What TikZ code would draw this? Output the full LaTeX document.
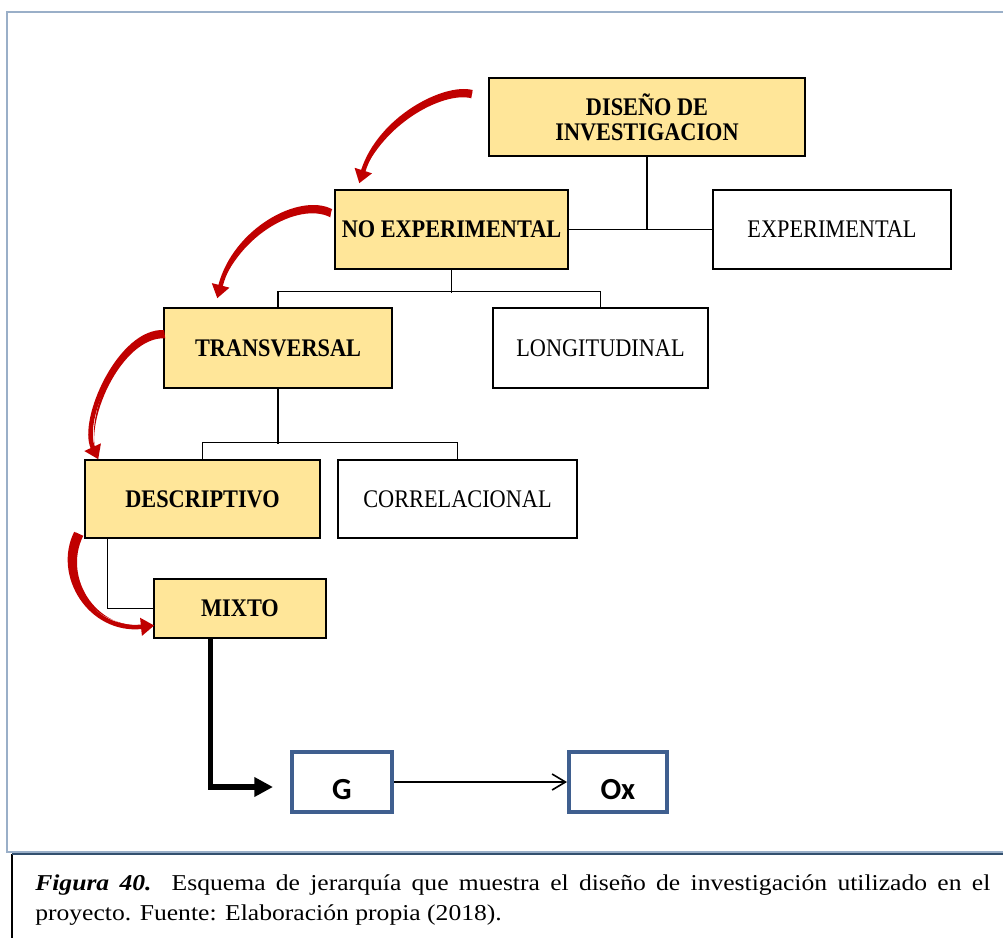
\documentclass[tikz,border=0pt]{standalone}
\usepackage{fontspec}
\setmainfont{Liberation Serif}
\newfontfamily\calibrifont{Carlito}
\newfontfamily\diafont[FakeStretch=0.88]{Liberation Serif}
\newfontfamily\capfont[FakeStretch=1.13]{Liberation Serif}
\usetikzlibrary{arrows.meta,calc}
\definecolor{boxyellow}{HTML}{FFE699}
\definecolor{arrowred}{HTML}{C00000}
\definecolor{frameblue}{HTML}{9AAFC8}
\definecolor{capline}{HTML}{33506F}
\definecolor{gblue}{HTML}{3F5F8F}
\begin{document}
\begin{tikzpicture}[x=0.75pt,y=-0.75pt,
  ybox/.style={draw=black,line width=1.1pt,fill=boxyellow,font=\diafont\fontsize{19}{18.5}\selectfont\bfseries,inner sep=0pt,align=center},
  wbox/.style={draw=black,line width=1.1pt,fill=white,font=\diafont\fontsize{19}{20}\selectfont,inner sep=0pt},
  tree/.style={draw=black,line width=1pt},
  obox/.style={draw=gblue,line width=3pt,fill=white,font=\calibrifont\fontsize{23}{24}\selectfont\bfseries,inner sep=0pt},
  redarr/.style={draw=arrowred,line width=3.4pt,-{Triangle[length=10pt,width=13pt]}},
  redtail/.style={fill=arrowred}
]
\useasboundingbox (0,0) rectangle (1003,938);
\fill[white] (0,0) rectangle (1003,938);
% frames
\draw[frameblue,line width=1.6pt] (1010,12) -- (7,12) -- (7,852) -- (1010,852);
\draw[black,line width=1.5pt] (12,853.5) -- (12,945);
\draw[capline,line width=1.5pt] (12,853.5) -- (1010,853.5);

% nodes
\node[ybox,minimum width=237pt,minimum height=58.5pt] (dis) at (647,117) {DISEÑO DE\\INVESTIGACION};
\node[ybox,minimum width=174.75pt,minimum height=59.25pt] (noexp) at (451.5,229.5) {NO EXPERIMENTAL};
\node[wbox,minimum width=178.5pt,minimum height=59.25pt] (exp) at (832,229.5) {EXPERIMENTAL};
\node[ybox,minimum width=171pt,minimum height=60pt] (trans) at (278,348) {TRANSVERSAL};
\node[wbox,minimum width=161.25pt,minimum height=60pt] (long) at (600.5,348) {LONGITUDINAL};
\node[ybox,minimum width=176.25pt,minimum height=58.5pt] (desc) at (202.5,499) {DESCRIPTIVO};
\node[wbox,minimum width=179.25pt,minimum height=58.5pt] (corr) at (457.5,499) {CORRELACIONAL};
\node[ybox,minimum width=129pt,minimum height=44.25pt] (mixto) at (240,608.5) {MIXTO};
\node[obox,minimum width=75pt,minimum height=45pt,text depth=0pt,text height=20pt] (G) at (342,782) {\raisebox{-3pt}{G}};
\node[obox,minimum width=73.5pt,minimum height=45pt,text depth=0pt,text height=20pt] (Ox) at (618,782) {\raisebox{-3pt}{Ox}};

% tree connectors
\draw[tree] (noexp.east) -- (exp.west);
\draw[tree] (dis.south) -- (dis.south |- noexp.east);
\draw[tree] (noexp.south) -- ++(0,23);
\draw[tree] (trans.north) -- ++(0,-16) -| (long.north);
\draw[tree] (trans.south) -- ++(0,55);
\draw[tree] (desc.north) -- ++(0,-17) -| (corr.north);
\draw[tree] ($(desc.south west)+(23,0)$) |- (mixto.west);

% thick arrow and G -> Ox
\coordinate (thickend) at ($(G.west)+(-17,5)$);
\draw[line width=3.8pt,line join=miter,-{Triangle[length=14pt,width=14pt]}] ($(mixto.south west)+(57,0)$) |- (thickend);
\draw[line width=1.2pt,-{Straight Barb[length=10pt,width=12pt]}] (G.east) -- (Ox.west);

% red curved arrows
\coordinate (s1) at ($(dis.north west)+(-16,15)$);
\coordinate (e1) at ($(noexp.north west)+(25,-6)$);
\fill[redtail] (s1) .. controls (445,85) and (380,118) .. (e1) .. controls ($(380,118)+(-1,6)$) and ($(445,85)+(-1,6)$) .. ($(s1)+(-1,6)$) -- cycle;
\draw[redarr] (s1) .. controls (445,85) and (380,118) .. (e1);

\coordinate (s2) at ($(noexp.north west)+(-3,22)$);
\coordinate (e2) at ($(trans.north west)+(54,-9)$);
\fill[redtail] (s2) .. controls (300,195) and (235,230) .. (e2) .. controls ($(235,230)+(-1,6)$) and ($(300,195)+(-1,6)$) .. ($(s2)+(-1,6)$) -- cycle;
\draw[redarr] (s2) .. controls (300,195) and (235,230) .. (e2);

\coordinate (s3) at ($(trans.north west)+(1,25)$);
\coordinate (e3) at ($(desc.north west)+(14,0)$);
\fill[redtail] (s3) .. controls (120,330) and (80,420) .. (e3) .. controls ($(80,420)+(1,6)$) and ($(120,330)+(1,6)$) .. ($(s3)+(1,6)$) -- cycle;
\draw[redarr] (s3) .. controls (120,330) and (80,420) .. (e3);

\coordinate (s4) at ($(desc.south west)+(-8,-6)$);
\coordinate (e4) at ($(mixto.west)+(1,17)$);
\fill[redtail] (s4) .. controls (55,575) and (90,632) .. (e4) .. controls ($(90,632)+(7,3)$) and ($(55,575)+(7,3)$) .. ($(s4)+(7,3)$) -- cycle;
\draw[redarr] (s4) .. controls (55,575) and (90,632) .. (e4);

% caption
\node[anchor=north west,text width=716.25pt,align=justify,inner sep=0pt,font=\capfont\fontsize{17}{22.5}\selectfont] (cap) at (35,874)
{\textbf{\textit{Figura 40.}} Esquema de jerarquía que muestra el diseño de investigación utilizado en el\linebreak
proyecto. Fuente: Elaboración propia (2018).};
\end{tikzpicture}
\end{document}
